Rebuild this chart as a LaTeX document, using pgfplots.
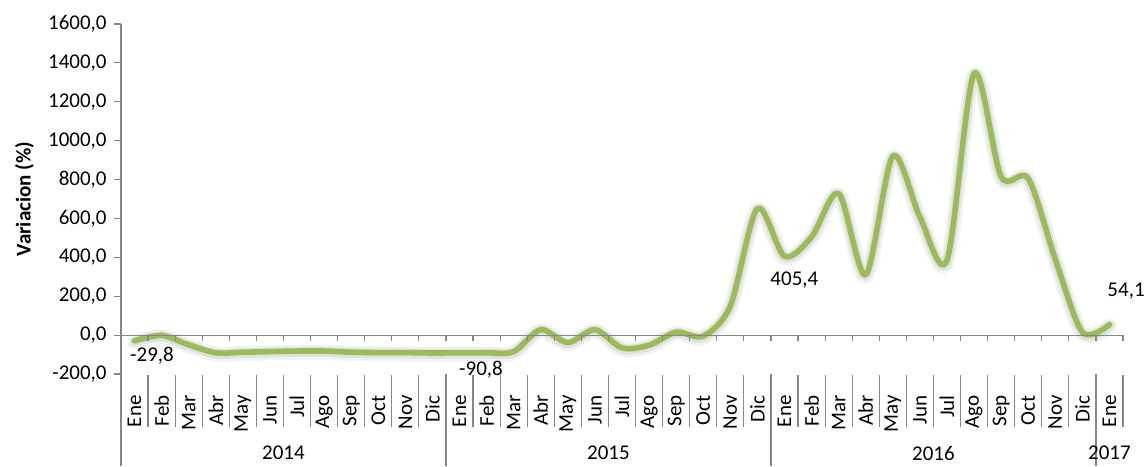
\documentclass[border=0pt]{standalone}
\usepackage{fontspec}
\setmainfont{Carlito}
\usepackage{pgfplots}
\pgfplotsset{compat=1.18}
\usepackage{pgfplotstable}
\definecolor{linegreen}{HTML}{9BBB59}
\definecolor{axgray}{HTML}{868686}
\pgfplotstableread{
x y
0 -29.8
1 -2
2 -50
3 -91
4 -88
5 -85
6 -82
7 -82
8 -88
9 -90
10 -90
11 -92
12 -91
13 -90.8
14 -85
15 28
16 -39
17 28
18 -66
19 -52
20 15
21 -5
22 150
23 651
24 405.4
25 505
26 728
27 310
28 920
29 608
30 385
31 1345
32 815
33 805
34 390
35 15
36 54.1
}\datatable
\begin{document}
\fontsize{10.5}{12.6}\selectfont
\begin{tikzpicture}
\begin{axis}[name=ax, scale only axis, width=501pt, height=175pt,
  xmin=-0.5, xmax=36.5, ymin=-200, ymax=1600, clip=false,
  axis y line*=left, axis x line*=bottom,
  x axis line style={draw=none},
  y axis line style={axgray, line width=0.6pt},
  ytick={-200,0,...,1600}, scaled y ticks=false,
  y tick style={axgray, line width=0.6pt}, tick align=outside, major tick length=3.5pt,
  /pgf/number format/.cd, fixed, fixed zerofill, precision=1, use comma, 1000 sep={}, assume math mode=true,
  /pgfplots/.cd,
  yticklabel style={font=\fontsize{10.5}{12.6}\selectfont},
  xtick={0,...,36}, x tick style={draw=none},
  xticklabels={Ene,Feb,Mar,Abr,May,Jun,Jul,Ago,Sep,Oct,Nov,Dic,Ene,Feb,Mar,Abr,May,Jun,Jul,Ago,Sep,Oct,Nov,Dic,Ene,Feb,Mar,Abr,May,Jun,Jul,Ago,Sep,Oct,Nov,Dic,Ene},
  xticklabel style={rotate=90, anchor=east, inner sep=0pt},
  xticklabel shift=7pt,
  ylabel={\bfseries Variacion (\%)},
]
\addplot[draw=black, opacity=0.05, line width=7.5pt, smooth, no marks, line cap=round, line join=round, yshift=-0.6pt] table {\datatable};
\addplot[draw=black, opacity=0.07, line width=5pt, smooth, no marks, line cap=round, line join=round, yshift=-0.4pt] table {\datatable};
\addplot[draw=linegreen, line width=2.8pt, smooth, no marks, line cap=round, line join=round] table {\datatable};
\draw[axgray, line width=0.6pt] (axis cs:-0.5,0) -- (axis cs:36.5,0);
\pgfplotsinvokeforeach{-0.5,0.5,...,36.5}{
  \draw[axgray, line width=0.6pt] (axis cs:#1,0) -- ([yshift=-3pt]axis cs:#1,0);
  \draw[axgray, line width=0.6pt] ([yshift=-0.5pt]axis cs:#1,-200) -- ([yshift=-26.5pt]axis cs:#1,-200);
}
\pgfplotsinvokeforeach{-0.5,11.5,23.5,35.5}{
  \draw[axgray, line width=0.6pt] ([yshift=0pt]axis cs:#1,-200) -- ([yshift=-46pt]axis cs:#1,-200);
}
\node at ([yshift=-39.5pt]axis cs:5.5,-200) {2014};
\node at ([yshift=-39.5pt]axis cs:17.5,-200) {2015};
\node at ([yshift=-39.5pt]axis cs:29.5,-200) {2016};
\node at ([yshift=-39.5pt]axis cs:36,-200) {2017};
\node at ([xshift=8.75pt,yshift=-7.6pt]axis cs:0,-29.8) {-29,8};
\node at ([xshift=-2.8pt,yshift=-8.65pt]axis cs:13,-90.8) {-90,8};
\node at ([xshift=4.95pt,yshift=-11.9pt]axis cs:24,405.4) {405,4};
\node at ([xshift=8.3pt,yshift=17pt]axis cs:36,54.1) {54,1};
\end{axis}
\pgfresetboundingbox
\path ([xshift=-60.5pt,yshift=-46pt]ax.south west) rectangle ([xshift=11pt,yshift=12pt]ax.north east);
\end{tikzpicture}
\end{document}
